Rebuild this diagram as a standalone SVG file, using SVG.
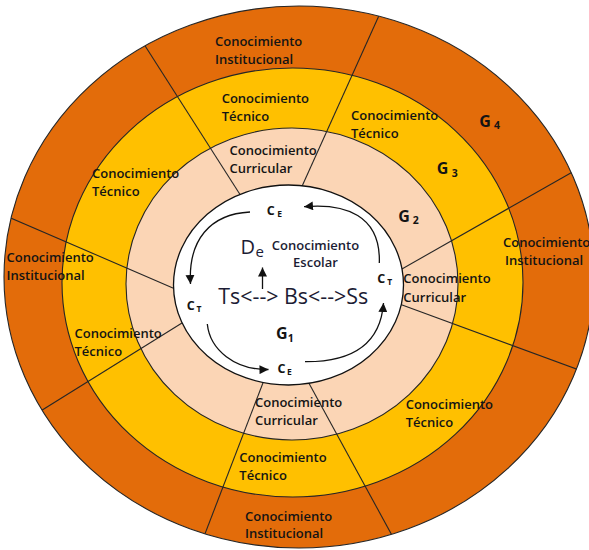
<svg xmlns="http://www.w3.org/2000/svg" width="589" height="550" viewBox="0 0 589 550">
<style>
.ring{stroke:#262626;stroke-width:1.1}
.div{stroke:#262626;stroke-width:1.1;fill:none}
text{font-family:"Open Sans","Liberation Sans",sans-serif;fill:#141414}
.lbl{font-size:13px;font-weight:600}
.g{font-size:16px;font-weight:700}
.gs{font-size:10.5px}
.c{font-size:12.5px;font-weight:700}
.sub{font-size:8.5px}
.big{font-weight:400;fill:#1c1c34}
.esc{font-size:13px;font-weight:600;fill:#1c1c34}
.arc{fill:none;stroke:#111;stroke-width:1.3;marker-end:url(#ah)}
</style>
<defs>
<clipPath id="outerClip"><ellipse cx="299" cy="277" rx="295" ry="271"/></clipPath>
<marker id="ah" viewBox="0 0 10 10" refX="10" refY="5" markerWidth="9.5" markerHeight="9" markerUnits="userSpaceOnUse" orient="auto"><path d="M0,0 L10,5 L0,10 z" fill="#111"/></marker>
</defs>

<g id="ring-G4"><ellipse cx="299" cy="277" rx="295" ry="271" fill="#E36C0A" class="ring"/></g>
<g id="ring-G3"><ellipse cx="292.5" cy="282.5" rx="230.5" ry="214.5" fill="#FFC000" class="ring"/></g>
<g id="ring-G2"><ellipse cx="292" cy="284" rx="166" ry="156" fill="#FBD5B5" class="ring"/></g>

<g id="dividers" clip-path="url(#outerClip)">
<line class="div" x1="136.7" y1="32.7" x2="248" y2="207"/>
<line class="div" x1="-1" y1="213" x2="181" y2="291.4"/>
<line class="div" x1="29.4" y1="418" x2="190" y2="318"/>
<line class="div" x1="198" y1="552" x2="266" y2="375"/>
<line class="div" x1="400" y1="550" x2="305" y2="376"/>
<line class="div" x1="598" y1="377" x2="394" y2="302"/>
<line class="div" x1="587" y1="163.7" x2="394" y2="273.5"/>
<line class="div" x1="386" y1="0" x2="299" y2="193"/>
</g>

<g id="ring-G1"><ellipse cx="288.5" cy="285" rx="115" ry="100" fill="#ffffff" stroke="#111" stroke-width="1.3"/></g>

<g id="labels-G4">
<text class="lbl"><tspan x="215" y="46">Conocimiento</tspan><tspan x="215" y="63.5">Institucional</tspan></text>
<text class="lbl"><tspan x="6.5" y="262">Conocimiento</tspan><tspan x="6.5" y="279.5">Institucional</tspan></text>
<text class="lbl"><tspan x="245" y="520.5">Conocimiento</tspan><tspan x="245" y="538.3">Institucional</tspan></text>
<text class="lbl"><tspan x="503" y="247.3">Conocimiento</tspan><tspan x="505" y="265">Institucional</tspan></text>
<text class="g"><tspan x="479.3" y="126.7">G</tspan><tspan class="gs" x="494" y="129.3">4</tspan></text>
</g>

<g id="labels-G3">
<text class="lbl"><tspan x="221.7" y="103.3">Conocimiento</tspan><tspan x="221.7" y="121.3">Técnico</tspan></text>
<text class="lbl"><tspan x="351" y="120">Conocimiento</tspan><tspan x="351" y="137.7">Técnico</tspan></text>
<text class="lbl"><tspan x="92" y="178">Conocimiento</tspan><tspan x="92" y="195.7">Técnico</tspan></text>
<text class="lbl"><tspan x="74.5" y="338.3">Conocimiento</tspan><tspan x="74.5" y="356">Técnico</tspan></text>
<text class="lbl"><tspan x="239.3" y="461.7">Conocimiento</tspan><tspan x="239.3" y="479.5">Técnico</tspan></text>
<text class="lbl"><tspan x="405.7" y="409.3">Conocimiento</tspan><tspan x="405.7" y="427.3">Técnico</tspan></text>
<text class="g"><tspan x="436.7" y="174">G</tspan><tspan class="gs" x="451.7" y="176.7">3</tspan></text>
</g>

<g id="labels-G2">
<text class="lbl"><tspan x="229.5" y="155">Conocimiento</tspan><tspan x="229.5" y="172.5">Curricular</tspan></text>
<text class="lbl"><tspan x="403.3" y="283.3">Conocimiento</tspan><tspan x="403.3" y="301.5">Curricular</tspan></text>
<text class="lbl"><tspan x="255" y="407">Conocimiento</tspan><tspan x="255" y="425">Curricular</tspan></text>
<text class="g"><tspan x="398.3" y="222.3">G</tspan><tspan class="gs" x="412.7" y="224.3">2</tspan></text>
</g>

<g id="labels-G1">
<text class="esc" text-anchor="middle"><tspan x="315.5" y="250">Conocimiento</tspan><tspan x="315.5" y="267.3">Escolar</tspan></text>
<text class="big"><tspan x="240.5" y="254" font-size="20px">D</tspan><tspan x="255.5" y="256.5" font-size="15px">e</tspan></text>
<text class="big" x="218.3" y="304" font-size="21.4px">Ts&lt;--&gt; Bs&lt;--&gt;Ss</text>
<text class="g"><tspan x="276" y="339.3">G</tspan><tspan class="gs" x="287.7" y="341.7">1</tspan></text>
<text class="c"><tspan x="266.7" y="215">C</tspan><tspan class="sub" x="277.3" y="217">E</tspan></text>
<text class="c"><tspan x="186.7" y="310">C</tspan><tspan class="sub" x="196.5" y="312">T</tspan></text>
<text class="c"><tspan x="377.3" y="282.7">C</tspan><tspan class="sub" x="387.3" y="284.7">T</tspan></text>
<text class="c"><tspan x="277.5" y="373.3">C</tspan><tspan class="sub" x="287" y="375.3">E</tspan></text>
</g>

<g id="connectors">
<path class="arc" d="M250,212 C210,214 188,240 190.5,284"/>
<path class="arc" d="M207.3,324 C210,350 235,370 268.5,369.5"/>
<path class="arc" d="M305,361.7 C345,362 380,350 383.5,303"/>
<path class="arc" d="M379.3,263 C381,215 345,203 304,206.7"/>
<path class="arc" d="M262.5,289 L262.5,267.5"/>
</g>
</svg>
